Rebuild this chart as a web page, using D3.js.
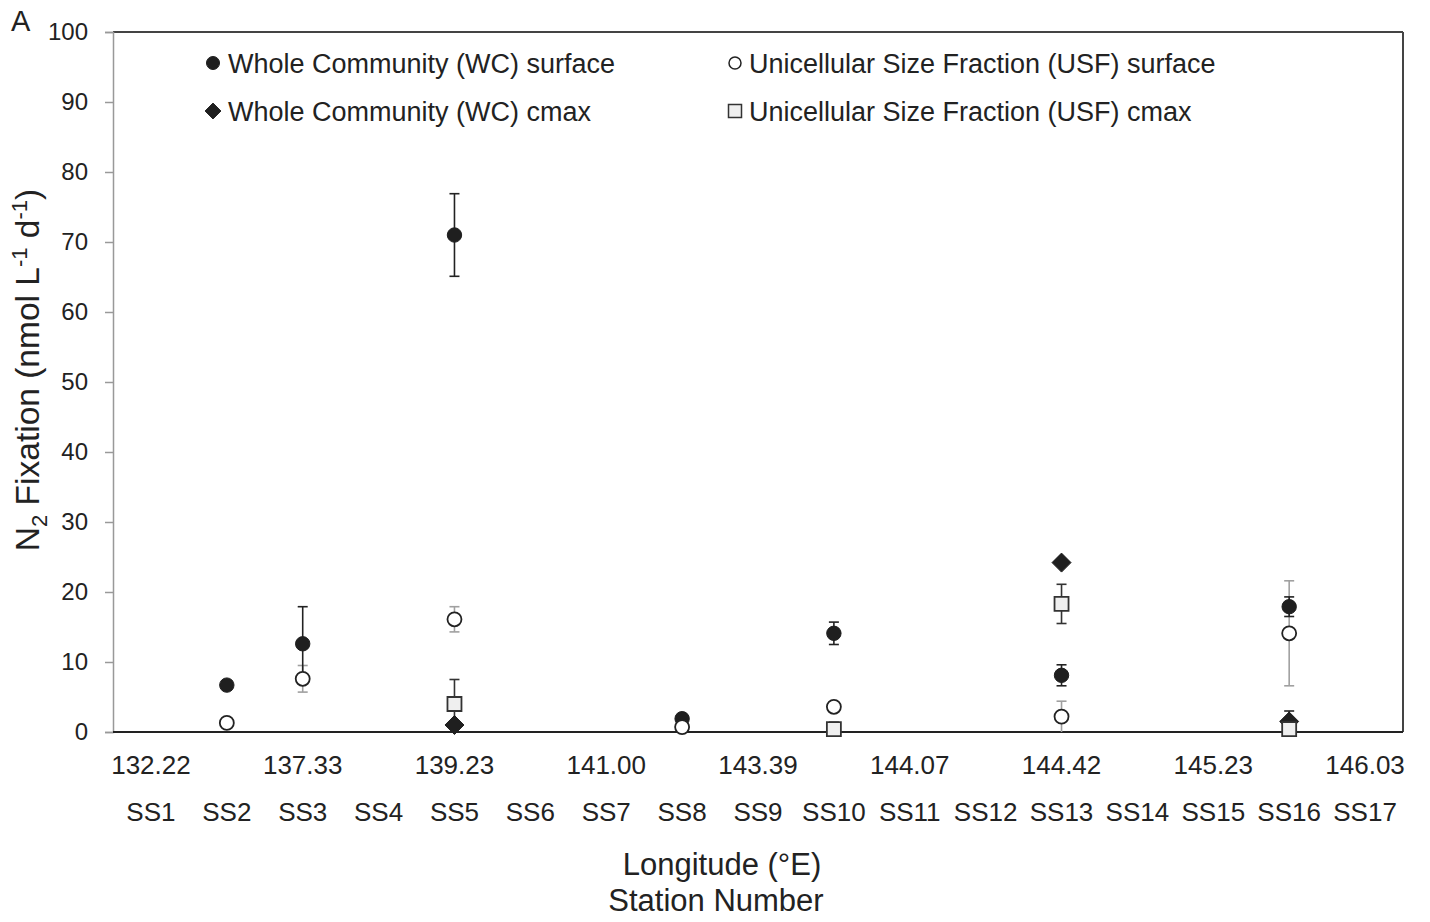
<!DOCTYPE html>
<html>
<head>
<meta charset="utf-8">
<script src="https://cdn.jsdelivr.net/npm/d3@7"></script>
<style>
  html, body { margin: 0; padding: 0; background: #fff; }
  svg { display: block; font-family: "Liberation Sans", Arial, sans-serif; }
</style>
</head>
<body>
<svg id="chart" width="1430" height="922"></svg>
<script>
// ---------------- data ----------------
const stations = ["SS1","SS2","SS3","SS4","SS5","SS6","SS7","SS8","SS9","SS10","SS11","SS12","SS13","SS14","SS15","SS16","SS17"];
const lonStations = ["SS1","SS3","SS5","SS7","SS9","SS11","SS13","SS15","SS17"];
const lonLabels = ["132.22","137.33","139.23","141.00","143.39","144.07","144.42","145.23","146.03"];
const yTicks = [0,10,20,30,40,50,60,70,80,90,100];

const wcSurfStations = ["SS2","SS3","SS5","SS8","SS10","SS13","SS16"];
const wcSurfValues   = [6.7, 12.6, 71.0, 1.9, 14.1, 8.1, 17.9];
const wcSurfErr      = [0, 5.3, 5.9, 0, 1.6, 1.5, 1.4];

const usfSurfStations = ["SS2","SS3","SS5","SS8","SS10","SS13","SS16"];
const usfSurfValues   = [1.3, 7.6, 16.1, 0.7, 3.6, 2.2, 14.1];
const usfSurfErr      = [0, 1.9, 1.8, 0, 0, 2.2, 7.5];

const wcCmaxStations = ["SS5","SS13","SS16"];
const wcCmaxValues   = [1.0, 24.2, 1.5];
const wcCmaxErr      = [0, 0, 1.5];

const usfCmaxStations = ["SS5","SS10","SS13","SS16"];
const usfCmaxValues   = [4.0, 0.4, 18.3, 0.4];
const usfCmaxErr      = [3.5, 1.0, 2.8, 0];

const legendLabels = [
  "Whole Community (WC) surface",
  "Unicellular Size Fraction (USF) surface",
  "Whole Community (WC) cmax",
  "Unicellular Size Fraction (USF) cmax"
];

// ---------------- layout ----------------
const svg = d3.select("#chart");
const L = 113, R = 1403, T = 32, B = 732;
const x = d3.scaleBand().domain(stations).range([L, R]).padding(0);
const cx = s => x(s) + x.bandwidth() / 2;
const y = d3.scaleLinear().domain([0, 100]).range([B, T]);
const textColor = "#222";

// frame top/right
svg.append("line").attr("x1", L).attr("x2", R).attr("y1", T).attr("y2", T)
  .attr("stroke", "#444").attr("stroke-width", 2);
svg.append("line").attr("x1", R).attr("x2", R).attr("y1", T).attr("y2", B)
  .attr("stroke", "#444").attr("stroke-width", 2);

// y axis
const yAxis = svg.append("g").attr("transform", `translate(${L},0)`)
  .call(d3.axisLeft(y).tickValues(yTicks).tickSize(8).tickPadding(17).tickFormat(d3.format("d")));
yAxis.select(".domain").attr("stroke", "#999").attr("stroke-width", 1.5);
yAxis.selectAll(".tick line").attr("stroke", "#999").attr("stroke-width", 1.5);
yAxis.selectAll(".tick text").attr("fill", textColor).style("font-size", "24px")
  .style("font-family", "Liberation Sans, Arial, sans-serif");

// x axis line
svg.append("line").attr("x1", L).attr("x2", R).attr("y1", B).attr("y2", B)
  .attr("stroke", "#222").attr("stroke-width", 2);

// x labels: longitude
svg.append("g").selectAll("text").data(lonStations).join("text")
  .attr("x", d => cx(d)).attr("y", 774)
  .attr("text-anchor", "middle").attr("fill", textColor).style("font-size", "26px")
  .text((d, i) => lonLabels[i]);

// x labels: stations
svg.append("g").selectAll("text").data(stations).join("text")
  .attr("x", d => cx(d)).attr("y", 821)
  .attr("text-anchor", "middle").attr("fill", textColor).style("font-size", "26px")
  .text(d => d);

// axis titles
svg.append("text").attr("x", 722).attr("y", 875).attr("text-anchor", "middle")
  .attr("fill", textColor).style("font-size", "31px").text("Longitude (°E)");
svg.append("text").attr("x", 716).attr("y", 911).attr("text-anchor", "middle")
  .attr("fill", textColor).style("font-size", "31px").text("Station Number");

const yt = svg.append("text").attr("transform", "translate(39,370) rotate(-90)")
  .attr("text-anchor", "middle").attr("fill", textColor).style("font-size", "33.5px");
yt.append("tspan").text("N");
yt.append("tspan").attr("dy", 8).style("font-size", "22px").text("2");
yt.append("tspan").attr("dy", -8).text(" Fixation (nmol L");
yt.append("tspan").attr("dy", -12).style("font-size", "22px").text("-1");
yt.append("tspan").attr("dy", 12).text(" d");
yt.append("tspan").attr("dy", -12).style("font-size", "22px").text("-1");
yt.append("tspan").attr("dy", 12).text(")");

// panel label
svg.append("text").attr("x", 11).attr("y", 31).attr("fill", textColor)
  .style("font-size", "29px").text("A");

// ---------------- error bars ----------------
function errorBars(st, vals, errs, color) {
  const data = st.map((s, i) => ({ s, v: vals[i], e: errs[i] })).filter(d => d.e > 0);
  const g = svg.append("g").attr("stroke", color).attr("stroke-width", 1.6).attr("fill", "none");
  g.selectAll("line.v").data(data).join("line").attr("class", "v")
    .attr("x1", d => cx(d.s)).attr("x2", d => cx(d.s))
    .attr("y1", d => y(Math.max(0, d.v - d.e))).attr("y2", d => y(d.v + d.e));
  g.selectAll("line.t").data(data).join("line").attr("class", "t")
    .attr("x1", d => cx(d.s) - 5).attr("x2", d => cx(d.s) + 5)
    .attr("y1", d => y(d.v + d.e)).attr("y2", d => y(d.v + d.e));
  g.selectAll("line.b").data(data.filter(d => d.v - d.e > 0)).join("line").attr("class", "b")
    .attr("x1", d => cx(d.s) - 5).attr("x2", d => cx(d.s) + 5)
    .attr("y1", d => y(d.v - d.e)).attr("y2", d => y(d.v - d.e));
}
errorBars(usfSurfStations, usfSurfValues, usfSurfErr, "#a0a0a0");
errorBars(usfCmaxStations, usfCmaxValues, usfCmaxErr, "#333");
errorBars(wcCmaxStations, wcCmaxValues, wcCmaxErr, "#222");
errorBars(wcSurfStations, wcSurfValues, wcSurfErr, "#222");

// ---------------- markers ----------------
const sym = {
  filled: d3.symbol().type(d3.symbolCircle).size(Math.PI * 7.2 * 7.2),
  open: d3.symbol().type(d3.symbolCircle).size(Math.PI * 7 * 7),
  diamond: d3.symbol().type(d3.symbolDiamond2).size(230),
  square: d3.symbol().type(d3.symbolSquare).size(14 * 14)
};
const styles = {
  filled: { fill: "#1f1f1f", stroke: "#1f1f1f", sw: 1 },
  open: { fill: "#fff", stroke: "#222", sw: 1.8 },
  diamond: { fill: "#1f1f1f", stroke: "#1f1f1f", sw: 1 },
  square: { fill: "#efefef", stroke: "#333", sw: 1.8 }
};
function markers(st, vals, kind) {
  const st_ = styles[kind];
  svg.append("g").selectAll("path").data(st.map((s, i) => ({ s, v: vals[i] }))).join("path")
    .attr("transform", d => `translate(${cx(d.s)},${y(d.v)})`)
    .attr("d", sym[kind]())
    .attr("fill", st_.fill).attr("stroke", st_.stroke).attr("stroke-width", st_.sw);
}
markers(wcSurfStations, wcSurfValues, "filled");
markers(wcCmaxStations, wcCmaxValues, "diamond");
markers(usfSurfStations, usfSurfValues, "open");
markers(usfCmaxStations, usfCmaxValues, "square");

// ---------------- legend ----------------
const legendPos = [
  { mx: 213, tx: 228, y: 63, kind: "filled" },
  { mx: 735, tx: 749, y: 63, kind: "open" },
  { mx: 213, tx: 228, y: 111, kind: "diamond" },
  { mx: 735, tx: 749, y: 111, kind: "square" }
];
const legSym = {
  filled: d3.symbol().type(d3.symbolCircle).size(Math.PI * 6.5 * 6.5),
  open: d3.symbol().type(d3.symbolCircle).size(Math.PI * 6 * 6),
  diamond: d3.symbol().type(d3.symbolDiamond2).size(160),
  square: d3.symbol().type(d3.symbolSquare).size(13 * 13)
};
const lg = svg.append("g");
legendPos.forEach((p, i) => {
  const st_ = styles[p.kind];
  lg.append("path").attr("transform", `translate(${p.mx},${p.y})`)
    .attr("d", legSym[p.kind]())
    .attr("fill", st_.fill).attr("stroke", st_.stroke).attr("stroke-width", p.kind === "open" || p.kind === "square" ? 1.5 : 1);
  lg.append("text").attr("x", p.tx).attr("y", p.y + 9.5).attr("fill", textColor)
    .style("font-size", "27px").text(legendLabels[i]);
});
</script>
</body>
</html>
